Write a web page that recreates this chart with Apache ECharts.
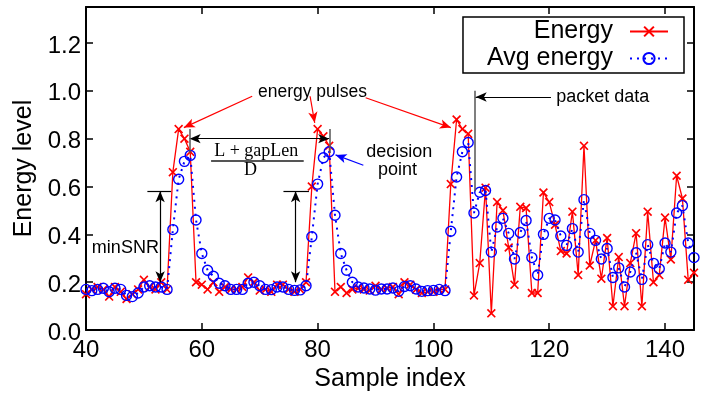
<!DOCTYPE html>
<html><head><meta charset="utf-8">
<script src="https://cdn.jsdelivr.net/npm/echarts@6/dist/echarts.min.js"></script>
<style>html,body{margin:0;padding:0;background:#fff}#c{width:709px;height:397px}</style>
</head><body><div id="c"></div>
<script>
const firstSample = 40;
const energy = [
0.15,0.17,0.18,0.17,0.14,0.18,0.16,0.13,0.15,0.17,
0.21,0.18,0.17,0.20,0.17,0.66,0.84,0.80,0.745,0.20,
0.19,0.17,0.20,0.16,0.18,0.17,0.17,0.18,0.22,0.20,
0.165,0.17,0.16,0.19,0.19,0.17,0.16,0.17,0.20,0.60,
0.84,0.81,0.77,0.16,0.18,0.155,0.17,0.175,0.17,0.165,
0.185,0.17,0.175,0.18,0.15,0.20,0.19,0.17,0.155,0.16,
0.16,0.17,0.17,0.61,0.88,0.84,0.82,0.145,0.28,0.595,
0.07,0.535,0.50,0.345,0.19,0.515,0.51,0.155,0.155,0.575,
0.535,0.44,0.33,0.32,0.495,0.23,0.77,0.27,0.375,0.215,
0.385,0.10,0.305,0.10,0.28,0.405,0.10,0.495,0.20,0.23,
0.47,0.295,0.645,0.55,0.21,0.24];
const avgEnergy = [
0.17,0.165,0.17,0.175,0.16,0.175,0.17,0.145,0.14,0.155,
0.18,0.185,0.18,0.18,0.17,0.42,0.63,0.705,0.73,0.46,
0.32,0.25,0.225,0.196,0.185,0.17,0.17,0.17,0.196,0.20,
0.185,0.17,0.169,0.18,0.18,0.17,0.166,0.168,0.185,0.39,
0.61,0.72,0.745,0.48,0.32,0.25,0.20,0.18,0.176,0.172,
0.167,0.172,0.172,0.176,0.162,0.182,0.185,0.172,0.162,0.165,
0.166,0.17,0.165,0.413,0.64,0.745,0.784,0.489,0.576,0.583,
0.326,0.431,0.467,0.404,0.297,0.408,0.458,0.303,0.23,0.40,
0.467,0.46,0.393,0.354,0.424,0.326,0.545,0.404,0.375,0.297,
0.341,0.22,0.26,0.18,0.243,0.323,0.212,0.357,0.279,0.256,
0.364,0.326,0.489,0.52,0.364,0.303];
const xTicks = [40, 60, 80, 100, 120, 140];
const yTicks = [0.0, 0.2, 0.4, 0.6, 0.8, 1.0, 1.2];
const xRange = [40, 145];
const yRange = [0, 1.35];

const SANS = 'Liberation Sans, Arial, Helvetica, sans-serif';
const SERIF = 'Liberation Serif, Times New Roman, serif';
const crossPath = 'path://M0,1.3L1.3,0L5,3.7L8.7,0L10,1.3L6.3,5L10,8.7L8.7,10L5,6.3L1.3,10L0,8.7L3.7,5Z';

const toPairs = arr => arr.map((v, i) => [firstSample + i, v]);

const isTick = (v, ticks) => ticks.some(t => Math.abs(t - v) < 1e-6);

function seg(a, b, color, width, s0, s1, dash) {
  return [
    {coord: a, symbol: s0 || 'none', symbolSize: [7, 11], lineStyle: {color: color, width: width, type: dash || 'solid'}},
    {coord: b, symbol: s1 || 'none', symbolSize: [7, 11]}
  ];
}

const annotLines = [
  seg([68.7, 0.977], [56.9, 0.846], '#ff0000', 1.2, 'none', 'arrow'),
  seg([78.7, 0.977], [79.5, 0.866], '#ff0000', 1.2, 'none', 'arrow'),
  seg([88.3, 0.971], [103.0, 0.846], '#ff0000', 1.2, 'none', 'arrow'),
  seg([57.9, 0.80], [82.0, 0.80], '#000', 1.2, 'arrow', 'arrow'),
  seg([57.9, 0.84], [57.9, 0.74], '#555', 1.5),
  seg([82.1, 0.84], [82.1, 0.74], '#555', 1.5),
  seg([61.6, 0.709], [77.6, 0.709], '#555', 2),
  seg([87.9, 0.689], [83.1, 0.732], '#0000ff', 1.2, 'none', 'arrow'),
  seg([52.8, 0.58], [52.8, 0.20], '#000', 1.2, 'arrow', 'arrow'),
  seg([50.6, 0.58], [54.7, 0.58], '#000', 1.2),
  seg([76.2, 0.58], [76.2, 0.20], '#000', 1.2, 'arrow', 'arrow'),
  seg([74.1, 0.58], [78.5, 0.58], '#000', 1.2),
  seg([107.2, 1.0], [107.2, 0.58], '#555', 1.5),
  seg([120.3, 0.974], [107.3, 0.974], '#000', 1.2, 'none', 'arrow')
];

const annotTexts = [
  {text: 'energy pulses', at: [79.1, 0.995], align: 'center', font: SANS, size: 17.5},
  {text: 'L + gapLen', at: [69.4, 0.748], align: 'center', font: SERIF, size: 18},
  {text: 'D', at: [68.4, 0.668], align: 'center', font: SERIF, size: 18},
  {text: 'decision', at: [94.1, 0.743], align: 'center', font: SANS, size: 18},
  {text: 'point', at: [93.8, 0.668], align: 'center', font: SANS, size: 18},
  {text: 'minSNR', at: [46.8, 0.343], align: 'center', font: SANS, size: 18},
  {text: 'packet data', at: [121.2, 0.974], align: 'left', font: SANS, size: 18}
];

const axisLineStyle = {color: '#000', width: 2};
const tickStyle = {inside: true, length: 7, lineStyle: {color: '#000', width: 1.5}};

const chart = echarts.init(document.getElementById('c'), null, {renderer: 'canvas'});
chart.setOption({
  animation: false,
  backgroundColor: '#fff',
  grid: {left: 86, right: 15, top: 7, bottom: 55},
  legend: {
    orient: 'vertical', align: 'right', right: 25, top: 17,
    itemWidth: 38, itemHeight: 14, itemGap: 2,
    padding: [2, 15, 2, 24],
    borderColor: '#000', borderWidth: 1.5, backgroundColor: '#fff',
    selectedMode: false,
    data: ['Energy', 'Avg energy'],
    formatter: name => '{t|' + name + '}',
    textStyle: {color: '#000', fontFamily: SANS, fontSize: 25,
      rich: {t: {color: '#000', fontFamily: SANS, fontSize: 25, padding: [0, 12, 0, 0]}}}
  },
  xAxis: [{
    type: 'value', min: xRange[0], max: xRange[1], interval: 20, position: 'bottom',
    axisLine: {show: true, onZero: false, lineStyle: axisLineStyle},
    axisTick: tickStyle, splitLine: {show: false},
    axisLabel: {fontSize: 24, color: '#000', fontFamily: SANS, margin: 8,
      formatter: v => isTick(v, xTicks) ? String(v) : ''},
    name: 'Sample index', nameLocation: 'middle', nameGap: 31,
    nameTextStyle: {fontSize: 25, color: '#000', fontFamily: SANS}
  }, {
    type: 'value', min: xRange[0], max: xRange[1], interval: 20, position: 'top',
    axisLine: {show: true, onZero: false, lineStyle: axisLineStyle},
    axisTick: tickStyle, splitLine: {show: false}, axisLabel: {show: false}
  }],
  yAxis: [{
    type: 'value', min: yRange[0], max: yRange[1], interval: 0.2, position: 'left',
    axisLine: {show: true, onZero: false, lineStyle: axisLineStyle},
    axisTick: tickStyle, splitLine: {show: false},
    axisLabel: {fontSize: 24, color: '#000', fontFamily: SANS, margin: 5,
      formatter: v => isTick(v, yTicks) ? '{v|' + v.toFixed(1) + '}' : '',
      rich: {v: {fontSize: 24, color: '#000', fontFamily: SANS, padding: [6, 0, 0, 0]}}},
    name: 'Energy level', nameLocation: 'middle', nameGap: 48,
    nameTextStyle: {fontSize: 25, color: '#000', fontFamily: SANS}
  }, {
    type: 'value', min: yRange[0], max: yRange[1], interval: 0.2, position: 'right',
    axisLine: {show: true, onZero: false, lineStyle: axisLineStyle},
    axisTick: tickStyle, splitLine: {show: false}, axisLabel: {show: false}
  }],
  series: [{
    name: 'Energy', type: 'line', data: toPairs(energy),
    symbol: crossPath, symbolSize: 9, showSymbol: true, showAllSymbol: true,
    itemStyle: {color: '#ff0000'},
    lineStyle: {color: '#ff0000', width: 1.3},
    emphasis: {disabled: true}, z: 2,
    markLine: {silent: true, animation: false, label: {show: false},
      emphasis: {disabled: true}, symbol: ['none', 'none'], data: annotLines}
  }, {
    name: 'Avg energy', type: 'line', data: toPairs(avgEnergy),
    symbol: 'circle', symbolSize: 10, showSymbol: true, showAllSymbol: true,
    itemStyle: {color: 'rgba(255,255,255,0)', borderColor: '#0000ff', borderWidth: 1.4},
    lineStyle: {color: '#0000ff', width: 2, type: [2, 5]},
    emphasis: {disabled: true}, z: 3
  }]
});

const graphics = [];
annotTexts.forEach(t => {
  const p = chart.convertToPixel({gridIndex: 0}, t.at);
  graphics.push({type: 'text', x: p[0], y: p[1], z: 100, silent: true,
    style: {text: t.text, fill: '#000', font: t.size + 'px ' + t.font,
      align: t.align, verticalAlign: 'middle'}});
});
chart.setOption({graphic: graphics});
</script></body></html>
